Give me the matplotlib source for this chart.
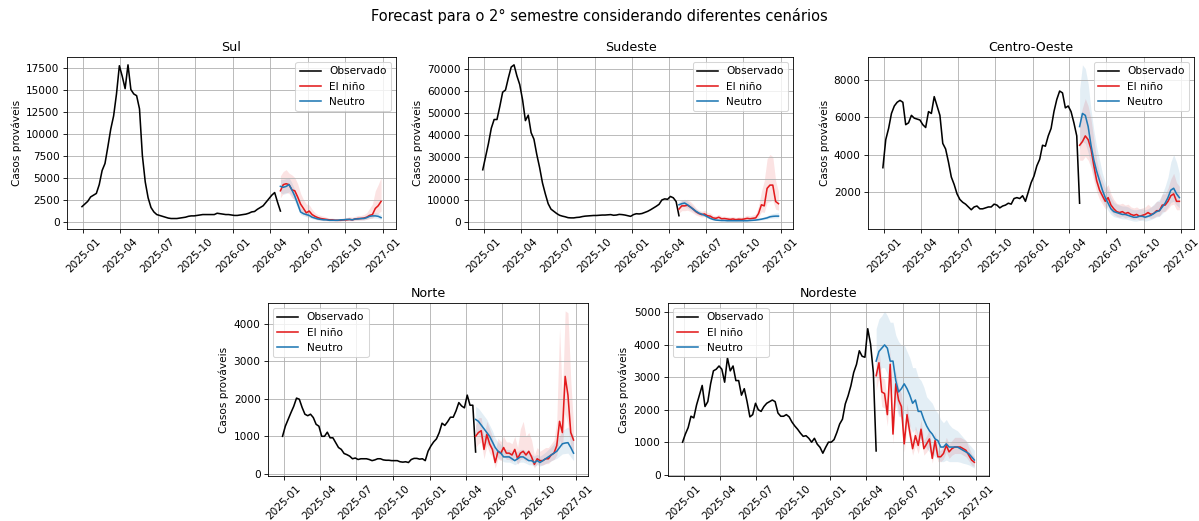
import pandas as pd
import matplotlib.pyplot as plt

# weekly dates: observed series and forecast horizon
obs_dates = pd.date_range('2024-12-29', periods=70, freq='W-SUN')
fc_dates = pd.date_range('2026-04-26', periods=36, freq='W-SUN')

# ---- Sul ----
sul_obs = [1700, 2000, 2300, 2800, 3000, 3200, 4200, 5800, 6600, 8500,
           10500, 12000, 14500, 17700, 16500, 15100, 17800, 15000, 14500, 14300,
           12800, 7500, 4500, 2700, 1600, 1100, 800, 700, 600, 500,
           400, 350, 350, 350, 400, 450, 500, 600, 650, 650,
           700, 750, 800, 800, 800, 800, 800, 950, 900, 850,
           800, 800, 750, 700, 700, 750, 800, 850, 950, 1100,
           1150, 1400, 1600, 1800, 2200, 2600, 3000, 3300, 2200, 1200]
sul_nino = [3500, 4200, 4300, 4200, 3600, 3500, 2800, 2000, 1500, 1000, 1200, 800, 600, 450, 350, 300, 250, 200,
            200, 150, 150, 150, 200, 200, 250, 200, 300, 350, 350, 400, 500, 700, 800, 1500, 1800, 2300]
sul_nino_hi = [5200, 5700, 5900, 5500, 5300, 5000, 4300, 3200, 2500, 2000, 1900, 1400, 1000, 800, 700, 600, 500, 400,
               400, 350, 350, 350, 450, 450, 550, 500, 600, 700, 700, 800, 1000, 1500, 2000, 3500, 4200, 5000]
sul_nino_lo = [2700, 3200, 3300, 3200, 2700, 2500, 1900, 1300, 900, 600, 700, 450, 300, 200, 150, 100, 100, 80,
               80, 50, 50, 50, 80, 80, 100, 80, 120, 150, 150, 180, 250, 350, 400, 800, 900, 1200]
sul_neutro = [4000, 3900, 4000, 4200, 3600, 2900, 2000, 1100, 900, 800, 700, 500, 400, 300, 250, 200, 200, 150,
              150, 150, 150, 200, 200, 250, 250, 200, 300, 300, 350, 350, 450, 600, 650, 650, 600, 450]
sul_neutro_hi = [4800, 4800, 4900, 5000, 4400, 3600, 2600, 1600, 1300, 1100, 1000, 750, 600, 450, 400, 350, 350, 300,
                 300, 300, 300, 350, 350, 400, 400, 400, 450, 500, 550, 550, 700, 900, 1000, 1000, 950, 800]
sul_neutro_lo = [3300, 3100, 3200, 3400, 2900, 2300, 1500, 800, 650, 550, 450, 320, 250, 180, 150, 120, 120, 80,
                 80, 80, 80, 100, 100, 150, 150, 120, 180, 180, 200, 200, 280, 380, 400, 400, 350, 250]

# ---- Sudeste ----
se_obs = [24000, 30000, 36000, 43000, 47000, 47000, 53000, 59500, 60500, 66000,
          71000, 72000, 67000, 63000, 56000, 46500, 49000, 41000, 38000, 31000,
          25000, 18000, 13000, 8500, 6000, 5000, 4000, 3200, 2800, 2500,
          2100, 2000, 2000, 2200, 2300, 2600, 2800, 2900, 3000, 3100,
          3100, 3200, 3300, 3300, 3400, 3500, 3200, 3300, 3600, 3500,
          3300, 3000, 2700, 3500, 3900, 3800, 4000, 4500, 5000, 5700,
          6500, 7300, 8200, 10200, 10700, 10500, 11800, 11200, 9500, 3000]
se_nino = [6000, 7500, 7500, 7800, 7000, 6000, 4800, 4000, 3500, 3800, 3000, 2800, 2000, 1800, 2300, 1600, 1700, 1500,
           1300, 1500, 1200, 1400, 1300, 1500, 1800, 1600, 1800, 2000, 4000, 8000, 7500, 15500, 17000, 17000, 9500, 8500]
se_nino_hi = [8500, 10000, 10000, 10500, 9500, 8200, 6500, 5500, 5000, 5500, 4500, 4200, 3200, 3000, 3600, 2700, 2800, 2600,
              2400, 2600, 2200, 2500, 2400, 2700, 3200, 2900, 3300, 3800, 7500, 14000, 19000, 29000, 31000, 30000, 19000, 14000]
se_nino_lo = [4200, 5300, 5300, 5500, 5000, 4200, 3300, 2800, 2400, 2600, 2000, 1900, 1300, 1100, 1500, 1000, 1100, 900,
              800, 900, 700, 850, 800, 900, 1100, 1000, 1100, 1200, 2400, 4800, 4500, 9000, 9500, 10000, 6000, 5500]
se_neutro = [8000, 8500, 8800, 8000, 7000, 6000, 5000, 4200, 3700, 3200, 2500, 1800, 1300, 1000, 900, 800, 800, 700,
             700, 700, 700, 700, 700, 700, 700, 800, 900, 1000, 1200, 1400, 1700, 2000, 2500, 2700, 2800, 2800]
se_neutro_hi = [9500, 10200, 10500, 9700, 8500, 7300, 6100, 5200, 4600, 4000, 3200, 2400, 1800, 1400, 1300, 1200, 1200, 1050,
                1050, 1050, 1050, 1050, 1050, 1050, 1050, 1200, 1350, 1500, 1800, 2100, 2500, 3000, 3600, 4000, 4200, 4400]
se_neutro_lo = [6800, 7100, 7300, 6600, 5700, 4900, 4000, 3400, 3000, 2600, 2000, 1400, 1000, 750, 650, 580, 580, 500,
                500, 500, 500, 500, 500, 500, 500, 580, 650, 720, 850, 1000, 1200, 1400, 1800, 1900, 2000, 2000]

# ---- Centro-Oeste ----
co_obs = [3300, 4800, 5400, 6200, 6600, 6800, 6900, 6800, 5600, 5700,
          6100, 5950, 5900, 5850, 5600, 5450, 6300, 6200, 7100, 6600,
          6100, 4600, 4300, 3600, 2800, 2400, 1900, 1600, 1450, 1350,
          1200, 1050, 1200, 1250, 1100, 1100, 1150, 1200, 1200, 1350,
          1300, 1150, 1250, 1300, 1400, 1350, 1650, 1700, 1650, 1800,
          1500, 2000, 2500, 2850, 3400, 3750, 4500, 4450, 5000, 5400,
          6300, 6950, 7400, 7300, 6500, 6600, 6300, 5700, 5000, 1400]
co_nino = [4500, 4700, 5000, 4800, 4300, 3400, 2600, 2100, 1800, 1500, 1700, 1300, 1100, 950, 900, 950, 850, 900,
           800, 750, 800, 700, 750, 800, 900, 800, 850, 1000, 1000, 1300, 1300, 1500, 1800, 1900, 1500, 1500]
co_nino_hi = [5900, 6500, 7000, 6600, 5900, 4800, 3700, 3000, 2600, 2200, 2400, 1900, 1600, 1400, 1350, 1400, 1300, 1350,
              1200, 1150, 1200, 1100, 1150, 1200, 1350, 1200, 1300, 1500, 1500, 1900, 1900, 2200, 2700, 3000, 2500, 2300]
co_nino_lo = [3700, 3700, 3900, 3700, 3300, 2600, 2000, 1600, 1350, 1100, 1250, 950, 800, 700, 650, 700, 600, 650,
              580, 540, 580, 500, 540, 580, 650, 580, 620, 720, 720, 950, 950, 1100, 1300, 1350, 1050, 1050]
co_neutro = [5500, 6200, 6100, 5500, 4500, 3700, 3100, 2600, 2100, 1700, 1400, 1100, 950, 900, 850, 800, 800, 750,
             700, 650, 650, 700, 700, 650, 700, 750, 850, 950, 1000, 1200, 1400, 1700, 2100, 2200, 1900, 1700]
co_neutro_hi = [7500, 8800, 8600, 7800, 6400, 5300, 4400, 3700, 3000, 2500, 2100, 1700, 1450, 1350, 1300, 1250, 1250, 1200,
                1100, 1050, 1050, 1100, 1100, 1050, 1100, 1200, 1350, 1500, 1600, 1900, 2300, 2800, 3600, 4000, 3600, 3000]
co_neutro_lo = [4300, 4700, 4600, 4100, 3400, 2800, 2300, 1900, 1550, 1250, 1000, 800, 680, 640, 600, 560, 560, 520,
                480, 440, 440, 480, 480, 440, 480, 520, 600, 670, 700, 850, 1000, 1200, 1450, 1500, 1300, 1150]

# ---- Norte ----
n_obs = [1000, 1270, 1450, 1630, 1800, 2020, 1990, 1770, 1590, 1550,
         1590, 1500, 1320, 1270, 1000, 1000, 1110, 960, 960, 830,
         700, 650, 540, 510, 470, 400, 420, 380, 400, 400,
         400, 380, 350, 370, 400, 400, 370, 360, 360, 350,
         350, 350, 320, 310, 320, 300, 380, 410, 410, 390,
         400, 350, 600, 740, 850, 930, 1100, 1350, 1290, 1390,
         1510, 1510, 1680, 1900, 1810, 1760, 2100, 1830, 1830, 580]
n_nino = [1000, 1100, 1150, 650, 1050, 800, 650, 300, 600, 550, 700, 550, 550, 500, 650, 400, 550, 600,
          500, 600, 450, 250, 400, 350, 350, 400, 400, 500, 550, 750, 1400, 1100, 2600, 2100, 1100, 900]
n_nino_hi = [1300, 1500, 1500, 1000, 1400, 1200, 1000, 600, 950, 850, 1000, 850, 850, 800, 1000, 700, 1200, 1400,
             1000, 1100, 900, 500, 700, 600, 650, 700, 700, 800, 900, 1400, 3900, 2000, 4350, 4300, 2500, 1300]
n_nino_lo = [700, 800, 850, 400, 750, 550, 450, 150, 400, 350, 480, 380, 380, 330, 450, 250, 380, 400,
             330, 400, 300, 150, 270, 230, 230, 270, 270, 350, 380, 500, 900, 700, 1600, 1300, 700, 600]
n_neutro = [1450, 1400, 1300, 1200, 1100, 1000, 850, 700, 600, 550, 450, 450, 450, 400, 350, 400, 450, 450,
            400, 350, 350, 300, 350, 300, 350, 400, 450, 500, 550, 600, 700, 800, 820, 830, 700, 550]
n_neutro_hi = [1800, 1750, 1650, 1550, 1450, 1300, 1150, 950, 850, 780, 680, 650, 650, 600, 550, 600, 650, 650,
               600, 550, 520, 470, 520, 470, 520, 580, 650, 720, 800, 880, 1000, 1150, 1200, 1250, 1150, 1000]
n_neutro_lo = [1100, 1050, 950, 880, 800, 720, 600, 500, 430, 380, 320, 310, 310, 280, 240, 280, 310, 310,
               280, 240, 240, 200, 240, 200, 240, 270, 310, 340, 380, 410, 470, 530, 540, 550, 450, 350]

# ---- Nordeste ----
ne_obs = [1000, 1250, 1450, 1800, 1750, 2150, 2450, 2750, 2100, 2250,
          2800, 3200, 3250, 3350, 3250, 2850, 3600, 3200, 3350, 2900,
          2900, 2450, 2650, 2250, 1780, 1850, 2200, 2000, 1950, 2100,
          2200, 2250, 2300, 2250, 1900, 1800, 1800, 1850, 1780, 1620,
          1500, 1400, 1280, 1180, 1200, 1120, 1000, 1120, 940, 840,
          660, 840, 1000, 1000, 1080, 1300, 1560, 1710, 2180, 2430,
          2740, 3150, 3400, 3820, 3650, 3620, 4500, 4030, 3150, 730]
ne_nino = [3050, 3450, 2550, 2500, 1850, 3400, 1250, 2800, 2300, 2100, 950, 1850, 1300, 800, 1200, 900, 1400, 800,
           950, 1100, 500, 1050, 550, 550, 650, 900, 700, 800, 850, 850, 850, 800, 750, 600, 450, 380]
ne_nino_hi = [3500, 3900, 3000, 2950, 2200, 3900, 1600, 3200, 2700, 2500, 1250, 2200, 1600, 1050, 1500, 1200, 1700, 1050,
              1200, 1400, 700, 1300, 750, 750, 850, 1150, 950, 1050, 1150, 1150, 1150, 1100, 1050, 850, 650, 550]
ne_nino_lo = [2600, 3000, 2100, 2050, 1500, 2900, 950, 2400, 1900, 1700, 700, 1500, 1000, 600, 900, 650, 1100, 600,
              700, 850, 350, 800, 400, 400, 480, 700, 500, 600, 650, 650, 650, 600, 550, 430, 300, 250]
ne_neutro = [3500, 3800, 3900, 4000, 3900, 3500, 3500, 2900, 2550, 2650, 2800, 2650, 2450, 2200, 2300, 1950, 1950, 1700,
             1500, 1350, 1250, 1100, 1050, 850, 850, 950, 850, 850, 850, 850, 800, 750, 700, 650, 550, 450]
ne_neutro_hi = [4500, 4800, 4900, 5050, 4900, 4700, 4700, 4300, 4100, 4000, 4000, 3800, 3600, 3300, 3300, 3000, 2900, 2700,
                2400, 2300, 2200, 2000, 1900, 1700, 1600, 1700, 1550, 1450, 1400, 1350, 1250, 1150, 1050, 950, 850, 750]
ne_neutro_lo = [3000, 3200, 3300, 3300, 3100, 2700, 2500, 2100, 1800, 1800, 1900, 1700, 1500, 1300, 1400, 1150, 1100, 950,
                800, 700, 650, 550, 500, 400, 400, 450, 400, 400, 400, 400, 380, 350, 330, 300, 250, 200]

RED = '#e31a1c'
BLUE = '#1f78b4'

# the reference looks like a larger figure rendered at low dpi
DPI = 75.6
fig = plt.figure(figsize=(1199 / DPI, 521 / DPI), dpi=DPI)
fig.suptitle('Forecast para o 2° semestre considerando diferentes cenários', fontsize=14, y=0.985)

panels = [
    ('Sul', [0.0559, 0.5605, 0.2744, 0.330], 'upper right',
     sul_obs, sul_nino, sul_nino_lo, sul_nino_hi, sul_neutro, sul_neutro_lo, sul_neutro_hi),
    ('Sudeste', [0.3903, 0.5605, 0.2713, 0.330], 'upper right',
     se_obs, se_nino, se_nino_lo, se_nino_hi, se_neutro, se_neutro_lo, se_neutro_hi),
    ('Centro-Oeste', [0.7240, 0.5605, 0.2720, 0.330], 'upper right',
     co_obs, co_nino, co_nino_lo, co_nino_hi, co_neutro, co_neutro_lo, co_neutro_hi),
    ('Norte', [0.2235, 0.0864, 0.2670, 0.332], 'upper left',
     n_obs, n_nino, n_nino_lo, n_nino_hi, n_neutro, n_neutro_lo, n_neutro_hi),
    ('Nordeste', [0.5571, 0.0864, 0.2677, 0.332], 'upper left',
     ne_obs, ne_nino, ne_nino_lo, ne_nino_hi, ne_neutro, ne_neutro_lo, ne_neutro_hi),
]

for name, pos, loc, obs, nino, nino_lo, nino_hi, neu, neu_lo, neu_hi in panels:
    ax = fig.add_axes(pos)
    ax.plot(obs_dates, obs, color='black', label='Observado')
    ax.plot(fc_dates, nino, color=RED, label='El niño')
    ax.fill_between(fc_dates, nino_lo, nino_hi, color=RED, alpha=0.12, linewidth=0)
    ax.plot(fc_dates, neu, color=BLUE, label='Neutro')
    ax.fill_between(fc_dates, neu_lo, neu_hi, color=BLUE, alpha=0.12, linewidth=0)
    ax.set_title(name)
    ax.set_ylabel('Casos prováveis')
    ax.grid(True)
    ax.tick_params(axis='x', rotation=45)
    ax.legend(loc=loc)

plt.savefig('out.png', dpi=DPI)
